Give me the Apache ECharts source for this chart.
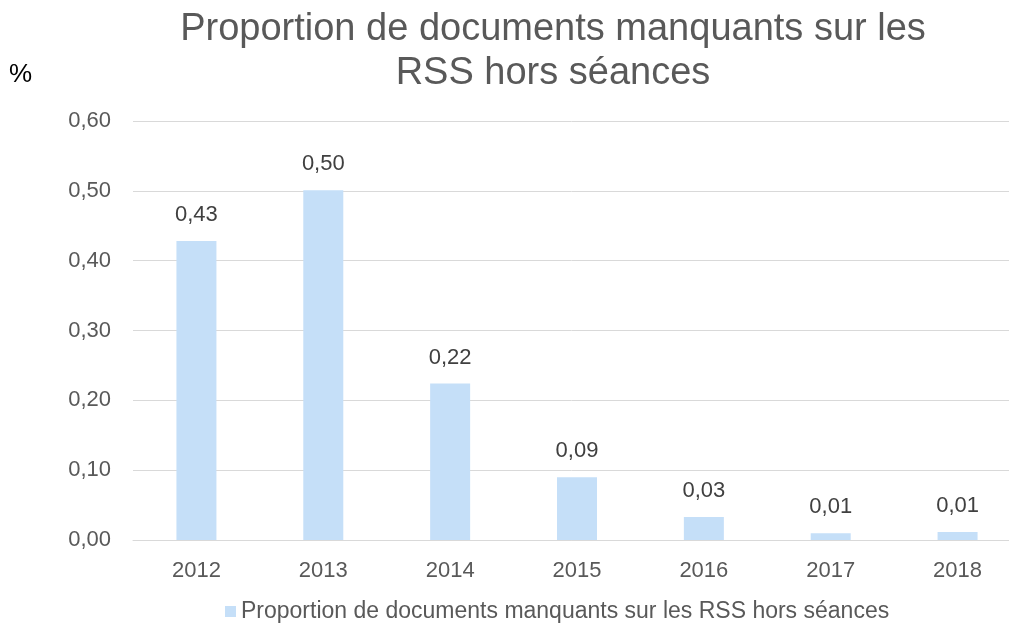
<!DOCTYPE html>
<html>
<head>
<meta charset="utf-8">
<script src="https://cdn.jsdelivr.net/npm/echarts@6/dist/echarts.min.js"></script>
<style>
  html, body { margin: 0; padding: 0; background: #fff; }
  #chart { width: 1009px; height: 630px; }
</style>
</head>
<body>
<div id="chart"></div>
<script>
// data
const years = ['2012', '2013', '2014', '2015', '2016', '2017', '2018'];
const proportions = [0.428, 0.501, 0.224, 0.090, 0.033, 0.0095, 0.0115];
const seriesName = 'Proportion de documents manquants sur les RSS hors séances';

const fmt = v => v.toFixed(2).replace('.', ',');

const chart = echarts.init(document.getElementById('chart'));

const option = {
    animation: false,
    textStyle: { fontFamily: 'Liberation Sans, Arial, sans-serif' },
    title: {
        text: 'Proportion de documents manquants sur les\nRSS hors séances',
        left: 548,
        textAlign: 'center',
        top: 3,
        textStyle: { fontSize: 38, fontWeight: 'normal', color: '#595959', lineHeight: 44 }
    },
    graphic: [{
        type: 'text',
        left: 9,
        top: 62,
        style: { text: '%', fontSize: 26, fill: '#000', fontFamily: 'Liberation Sans, Arial, sans-serif' }
    }],
    legend: {
        data: [seriesName],
        bottom: 2,
        left: 220,
        itemWidth: 11,
        itemHeight: 11,
        itemGap: 4,
        icon: 'rect',
        textStyle: { fontSize: 23, color: '#595959' }
    },
    grid: { left: 133, right: -12, top: 121, bottom: 90, containLabel: false, outerBoundsMode: 'none' },
    xAxis: {
        type: 'category',
        data: years,
        axisLine: { lineStyle: { color: '#d9d9d9', width: 1 } },
        axisTick: { show: false },
        axisLabel: { fontSize: 22, color: '#595959', margin: 20 }
    },
    yAxis: {
        type: 'value',
        min: 0,
        max: 0.6,
        interval: 0.1,
        axisLine: { show: false },
        axisTick: { show: false },
        splitLine: { lineStyle: { color: '#d9d9d9', width: 1 } },
        axisLabel: { fontSize: 22, color: '#595959', margin: 22, formatter: v => fmt(v) }
    },
    series: [{
        name: seriesName,
        type: 'bar',
        data: proportions,
        barWidth: 40,
        itemStyle: { color: '#c5dff8' },
        label: {
            show: true,
            position: 'top',
            distance: 15,
            fontSize: 22,
            color: '#404040',
            formatter: p => fmt(p.value)
        }
    }]
};

chart.setOption(option);
</script>
</body>
</html>
